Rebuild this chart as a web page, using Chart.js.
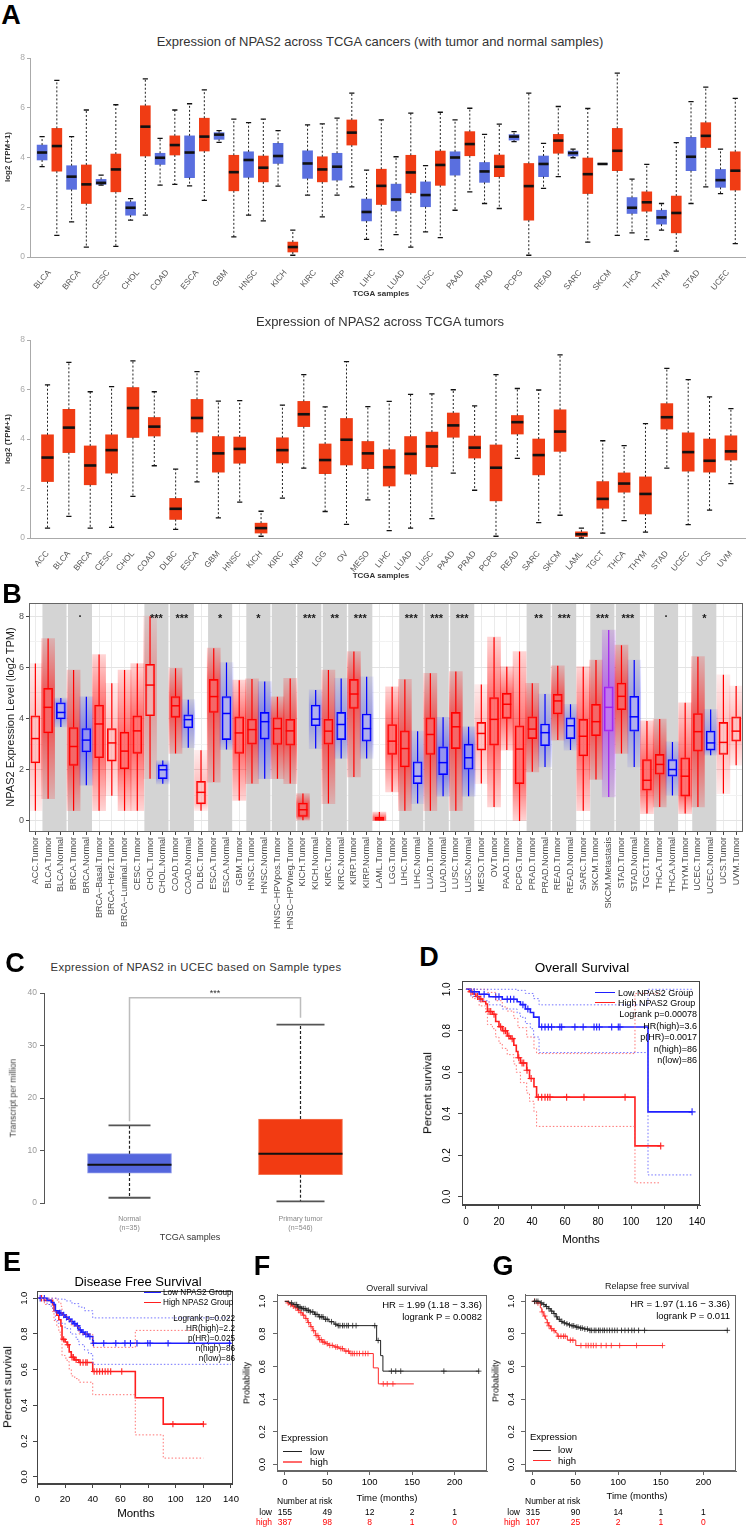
<!DOCTYPE html>
<html>
<head>
<meta charset="utf-8">
<title>NPAS2 expression and survival</title>
<script src="https://cdn.jsdelivr.net/npm/chart.js@4.4.1/dist/chart.umd.min.js"></script>
<style>
  html,body{margin:0;padding:0;background:#fff;}
  #root{position:relative;width:749px;height:1528px;overflow:hidden;background:#fff;font-family:"Liberation Sans",Arial,Helvetica,sans-serif;color:#000;}
  #root canvas{position:absolute;}
  .t{position:absolute;white-space:nowrap;line-height:1;}
  .sw{position:absolute;height:0;}
</style>
</head>
<body>
<div id="root"></div>
<script>
// ======================= DATA =======================
// box stats: [lower whisker, Q1, median, Q3, upper whisker]
const a1Cancers = ['BLCA','BRCA','CESC','CHOL','COAD','ESCA','GBM','HNSC','KICH','KIRC','KIRP','LIHC','LUAD','LUSC','PAAD','PRAD','PCPG','READ','SARC','SKCM','THCA','THYM','STAD','UCEC'];
const a1Normal = [
 [3.63,3.90,4.20,4.50,4.84],[1.41,2.72,3.23,3.67,4.84],[2.89,2.92,2.98,3.12,3.29],[1.48,1.68,1.98,2.22,2.35],
 [2.89,3.72,3.99,4.17,4.77],[2.86,3.19,4.20,4.87,6.16],[4.61,4.73,4.92,5.00,5.08],[1.68,3.20,3.90,4.23,5.40],
 [2.85,3.76,4.06,4.57,5.08],[2.49,3.16,3.76,4.27,5.31],[2.49,3.09,3.63,4.17,5.58],[0.71,1.45,1.81,2.33,3.49],
 [0.90,1.85,2.31,2.93,4.03],[1.01,2.02,2.49,3.02,3.67],[1.88,3.29,4.00,4.23,5.51],[2.15,3.00,3.44,3.80,4.93],
 [4.64,4.70,4.84,4.92,5.04],[2.76,3.23,3.74,4.06,4.57],[3.99,4.06,4.18,4.26,4.34],[3.73,3.73,3.74,3.75,3.75],
 [0.97,1.75,1.98,2.39,3.13],[1.08,1.32,1.59,1.88,2.15],[2.15,3.47,4.03,4.81,6.25],[2.55,2.80,3.09,3.52,4.34]];
const a1Tumor = [
 [0.87,3.45,4.46,5.17,7.10],[0.40,2.15,2.92,3.70,5.91],[0.43,2.62,3.52,4.14,6.12],[1.68,4.06,5.24,6.08,7.16],
 [2.92,4.10,4.50,4.87,5.91],[2.28,4.26,4.84,5.58,6.72],[0.81,2.66,3.41,4.09,5.54],[1.45,3.02,3.59,4.06,5.54],
 [0.07,0.20,0.40,0.60,1.08],[1.61,3.02,3.52,4.03,5.35],[2.82,4.50,5.00,5.51,6.59],[0.30,2.11,2.86,3.53,5.51],
 [0.40,2.58,3.40,4.09,5.78],[0.78,2.88,3.70,4.26,5.82],[2.62,4.07,4.54,5.04,5.98],[1.95,3.23,3.63,4.10,5.34],
 [0.07,1.48,2.85,3.76,6.59],[3.23,4.17,4.68,4.93,6.05],[0.60,2.55,3.33,3.98,5.97],[0.87,3.47,4.27,5.17,7.39],
 [0.70,1.84,2.20,2.62,3.72],[0.24,0.97,1.77,2.45,4.60],[2.82,4.40,4.87,5.40,6.83],[0.54,2.69,3.47,4.23,6.38]];

const a2Cancers = ['ACC','BLCA','BRCA','CESC','CHOL','COAD','DLBC','ESCA','GBM','HNSC','KICH','KIRC','KIRP','LGG','OV','MESO','LIHC','LUAD','LUSC','PAAD','PRAD','PCPG','READ','SARC','SKCM','LAML','TGCT','THCA','THYM','STAD','UCEC','UCS','UVM'];
const a2Tumor = [
 [0.40,2.28,3.25,4.17,6.19],[0.87,3.45,4.46,5.20,7.10],[0.40,2.15,2.93,3.72,5.91],[0.43,2.62,3.55,4.17,6.12],
 [1.68,4.06,5.25,6.08,7.16],[2.92,4.12,4.50,4.87,5.91],[0.35,0.75,1.18,1.60,2.78],[2.27,4.28,4.85,5.60,6.72],
 [0.81,2.66,3.42,4.10,5.53],[1.45,3.02,3.60,4.08,5.55],[0.07,0.20,0.40,0.60,1.08],[1.61,3.03,3.55,4.05,5.37],
 [2.82,4.50,5.00,5.52,6.60],[1.07,2.60,3.15,3.80,5.30],[0.55,2.95,3.97,4.83,7.13],[1.54,2.80,3.42,3.90,5.31],
 [0.30,2.10,2.86,3.57,5.52],[0.40,2.58,3.40,4.10,5.80],[0.78,2.88,3.70,4.28,5.82],[2.62,4.07,4.55,5.05,5.99],
 [1.93,3.23,3.65,4.12,5.34],[0.07,1.50,2.84,3.76,6.60],[3.22,4.20,4.68,4.95,6.04],[0.62,2.55,3.35,4.00,5.98],
 [0.92,3.50,4.30,5.18,7.40],[0.00,0.06,0.15,0.25,0.40],[0.20,1.20,1.58,2.28,3.93],[0.70,1.85,2.20,2.63,3.73],
 [0.24,0.97,1.78,2.47,4.62],[2.82,4.40,4.88,5.43,6.85],[0.54,2.70,3.47,4.25,6.40],[1.13,2.66,3.12,4.00,5.70],
 [2.20,3.15,3.50,4.13,5.23]];

const bGroups = ['ACC.Tumor','BLCA.Tumor','BLCA.Normal','BRCA.Tumor','BRCA.Normal','BRCA\u2212Basal.Tumor','BRCA\u2212Her2.Tumor','BRCA\u2212Luminal.Tumor','CESC.Tumor','CHOL.Tumor','CHOL.Normal','COAD.Tumor','COAD.Normal','DLBC.Tumor','ESCA.Tumor','ESCA.Normal','GBM.Tumor','HNSC.Tumor','HNSC.Normal','HNSC\u2212HPVpos.Tumor','HNSC\u2212HPVneg.Tumor','KICH.Tumor','KICH.Normal','KIRC.Tumor','KIRC.Normal','KIRP.Tumor','KIRP.Normal','LAML.Tumor','LGG.Tumor','LIHC.Tumor','LIHC.Normal','LUAD.Tumor','LUAD.Normal','LUSC.Tumor','LUSC.Normal','MESO.Tumor','OV.Tumor','PAAD.Tumor','PCPG.Tumor','PRAD.Tumor','PRAD.Normal','READ.Tumor','READ.Normal','SARC.Tumor','SKCM.Tumor','SKCM.Metastasis','STAD.Tumor','STAD.Normal','TGCT.Tumor','THCA.Tumor','THCA.Normal','THYM.Tumor','UCEC.Tumor','UCEC.Normal','UCS.Tumor','UVM.Tumor'];
const bStats = [
 [0.40,2.27,3.22,4.11,6.15],[0.87,3.44,4.44,5.18,7.13],[3.67,3.99,4.24,4.62,4.80],[0.40,2.17,2.91,3.65,5.90],
 [1.40,2.70,3.16,3.61,4.85],[0.40,2.47,3.79,4.53,6.50],[0.99,2.34,3.05,3.61,5.38],[0.40,2.04,2.73,3.47,5.90],
 [0.40,2.64,3.52,4.11,6.15],[1.65,4.11,5.31,6.12,8.00],[1.45,1.65,2.00,2.19,2.36],[2.64,4.05,4.50,4.86,5.97],
 [2.86,3.64,3.96,4.15,4.74],[0.40,0.67,1.12,1.55,2.76],[1.52,4.24,4.86,5.53,6.75],[2.79,3.18,4.20,4.86,6.19],
 [0.80,2.64,3.44,4.07,5.50],[1.46,3.00,3.57,3.98,5.55],[1.65,3.20,3.88,4.24,5.45],[1.65,2.99,3.61,4.03,4.85],
 [1.46,2.96,3.52,3.97,5.57],[0.03,0.18,0.44,0.70,1.07],[2.83,3.72,3.98,4.53,5.12],[0.68,3.00,3.51,3.97,5.90],
 [2.44,3.18,3.77,4.24,5.57],[1.72,4.40,4.96,5.53,6.62],[2.44,3.12,3.61,4.18,5.63],[0.00,0.02,0.08,0.15,0.35],
 [1.14,2.60,3.12,3.77,5.24],[0.40,2.11,2.83,3.52,5.53],[0.68,1.46,1.75,2.31,3.51],[0.40,2.60,3.38,4.03,5.77],
 [0.97,1.81,2.28,2.90,4.05],[0.40,2.83,3.68,4.24,5.84],[0.97,2.02,2.47,3.00,3.68],[1.46,2.77,3.42,3.85,5.33],
 [0.55,2.96,3.97,4.82,7.18],[2.77,4.01,4.56,4.99,6.03],[0.00,1.46,2.81,3.72,6.62],[1.92,3.22,3.59,4.07,5.38],
 [2.11,2.94,3.45,3.79,4.96],[3.16,4.18,4.69,4.95,6.06],[2.77,3.22,3.72,4.03,4.56],[0.40,2.54,3.31,3.97,6.03],
 [1.62,3.33,3.88,4.56,6.29],[0.94,3.51,4.44,5.24,7.46],[2.64,4.35,4.87,5.39,6.87],[2.11,3.51,4.07,4.87,6.29],
 [0.29,1.20,1.59,2.40,3.91],[0.55,1.83,2.21,2.60,3.98],[1.00,1.75,2.01,2.40,3.09],[0.29,0.97,1.75,2.47,4.62],
 [0.55,2.73,3.49,4.20,6.42],[2.57,2.77,3.05,3.51,4.36],[1.07,2.60,3.07,3.85,5.71],[2.18,3.12,3.51,4.07,5.27]];
// tumor/normal comparison pairs (index of the first group of each pair) and significance marks
const bPairStarts = [1,3,9,11,14,17,19,21,23,25,29,31,33,39,41,44,46,49,52];
const bSigIndex = [3,9,11,14,17,21,23,25,29,31,33,39,41,44,46,49,52];
const bSigText  = ['.','***','***','*','*','***','**','***','***','***','***','**','***','***','***','.','*'];
const bTicks = [0,1,2,3,4,5,6,7,8];

const cLabels = [['Normal','(n=35)'],['Primary tumor','(n=546)']];
const cStats = [[1.0,5.7,7.3,9.4,14.8],[0.3,5.4,9.4,16.0,34.0]];
const cBracket = {top:39.1, legs:[15.6,35.3], text:'***'};

// Kaplan-Meier: event times (months) and survival after each step; censor times; curve end
const dLowT = [0,3,8,14,22,31,33,36,39,41,44.3,110.3];
const dLowS = [1,0.988,0.976,0.964,0.952,0.94,0.926,0.905,0.888,0.866,0.818,0.409];
const dLowCens = [5,11,18,20,25,27,29,34.5,37.5,45.9,47.9,49.9,51.9,56.9,58,66,71,77.6,79.2,80.8,88.3,92.3,93.3,137];
const dHighT = [0,2,4,6,8,10,12,13,16,18,20,22,25,27,29,30.5,31.5,33,36.8,38.5,41.2,42.8,102.4];
const dHighS = [1,0.988,0.977,0.965,0.953,0.941,0.929,0.893,0.88,0.845,0.82,0.8,0.775,0.762,0.73,0.7,0.67,0.645,0.61,0.57,0.53,0.48,0.245];
const dHighCens = [3,7,9,14,15,17,21,23,24,26,28,32,34,35,37,39.5,43.8,45.9,47.9,49.5,50.9,61,71.5,96.4,118];
const dLowUpT = [0,31,36,41,44.3,110.3], dLowUpS = [1,0.995,0.98,0.955,0.925,1.0];
const dLowLoT = [0,3,8,14,22,31,33,36,39,41,44.3,110.3], dLowLoS = [1,0.965,0.945,0.925,0.905,0.885,0.865,0.835,0.81,0.77,0.695,0.105];
const dHighUpT = [0,10,13,18,22,25,29,31.5,36.8,41.2,42.8,102.4], dHighUpS = [1,1,0.985,0.945,0.915,0.895,0.86,0.815,0.77,0.715,0.69,0.98];
const dHighLoT = [0,4,8,12,13,16,18,20,22,25,29,30.5,33,36.8,38.5,41.2,42.8,102.4], dHighLoS = [1,0.955,0.92,0.885,0.83,0.81,0.77,0.74,0.715,0.685,0.64,0.6,0.55,0.5,0.46,0.41,0.339,0.067];
const dEnd = {low:137, high:118};

const eLowT = [0,7,10,12,13,15,18,20,22,24,26,28,30,32,34,37,40];
const eLowS = [1,0.988,0.976,0.964,0.93,0.918,0.906,0.894,0.882,0.87,0.858,0.846,0.822,0.81,0.798,0.786,0.748];
const eLowCens = [2,5,16,17,19,21,23,25,27,29,31,33,35,36,38,40.6,48,56.7,63.3,67.3,72,79.8,81.5,94.5,139];
const eHighT = [0,5,11,12,14,15.5,17,17.8,20,21.5,23,24.5,27,30,40,70.8,91];
const eHighS = [1,0.988,0.964,0.93,0.905,0.88,0.845,0.77,0.755,0.74,0.7,0.67,0.655,0.64,0.59,0.4425,0.295];
const eHighCens = [3,19,22,25,26,28,31,33,35,36,41,43,45,47,49,51,53,61,98,120];
const eLowUpT = [0,12,15,20,25,30,34,40], eLowUpS = [1,1,0.995,0.985,0.97,0.95,0.93,0.89];
const eLowLoT = [0,7,10,12,13,15,20,24,28,30,34,37,40], eLowLoS = [1,0.965,0.945,0.925,0.875,0.86,0.83,0.8,0.77,0.74,0.71,0.69,0.63];
const eHighUpT = [0,14,15.5,17,17.8,21.5,24.5,30,40,70.8], eHighUpS = [1,0.99,0.975,0.955,0.905,0.88,0.845,0.8,0.725,0.82];
const eHighLoT = [0,5,11,12,14,15.5,17,17.8,20,21.5,23,24.5,27,30,40,70.8,91], eHighLoS = [1,0.965,0.925,0.875,0.84,0.81,0.77,0.68,0.665,0.645,0.6,0.565,0.55,0.53,0.46,0.235,0.105];
const eEnd = {low:140, high:120};

const fLowT = [0,5,10,15,20,25,30,35,40,46,52,58,62,108.2,112.9,115.6];
const fLowS = [1,0.99,0.98,0.965,0.955,0.945,0.935,0.92,0.905,0.89,0.875,0.86,0.851,0.76,0.667,0.572];
const fLowCens = [8,12,14,16,18,20,22,24,26,28,30,33,36,38,41,43,45,48,50,55,60,63,65,68,70,73,75,80,84,106,110,125.6,130.7,136.6,187.4,228.4];
const fHighT = [0,3,6,9,12,15,18,21,24,27,30,33,36,40,44,48,52,58,64,70,76,104.3,110.2];
const fHighS = [1,0.99,0.98,0.97,0.96,0.945,0.93,0.915,0.895,0.87,0.845,0.82,0.79,0.765,0.75,0.74,0.73,0.72,0.71,0.695,0.68,0.592,0.494];
const fHighCens = [4,7,10,13,16,19,22,25,28,31,34,37,39,41,43,45,47,50,53,56,60,62,66,68,72,75,78,80,82,85,88,92,95,98,116,120.7,127.4];
const fEnd = {low:229, high:152};
const fRiskLow = [155,49,12,2,1], fRiskHigh = [387,98,8,1,0];

const gLowT = [0,8.8,12,15,18,21,24,27,29,32,35,38.5,42,45,50,55,60,66.1];
const gLowS = [1,0.99,0.98,0.968,0.955,0.94,0.925,0.905,0.89,0.877,0.868,0.862,0.855,0.85,0.842,0.836,0.83,0.822];
const gLowCens = [2,4,6,10,13,16,19,22,25,28,31,34,37,40,43,46,48,51,53,56,58,61,64,67,69,72,74,77,79,82,84,87,90,93,96,99,104,108,112,116,119,124,131,228];
const gHighT = [0,4.8,8.8,10.5,12.8,15,16.8,18.5,20.7,24,26.7,28.6,40.5,50.4];
const gHighS = [1,0.99,0.96,0.935,0.91,0.89,0.869,0.85,0.832,0.82,0.807,0.786,0.762,0.729];
const gHighCens = [2,6,11,14,17,19,22,25,30,33,36,38,44,47,56.4,62.3,65,68.2,71,74.2,80.1,86,92,101.8,121.6,152];
const gEnd = {low:229, high:152};
const gRiskLow = [315,90,14,1,1], gRiskHigh = [107,25,2,1,0];
const riskTimes = [0,50,100,150,200];

// ======================= HELPERS =======================
Chart.defaults.font.family = '"Liberation Sans", Arial, Helvetica, sans-serif';
Chart.defaults.color = '#333';
const FONT = '"Liberation Sans", Arial, Helvetica, sans-serif';
const root = document.getElementById('root');

function mkCanvas(left, top, w, h) {
  const c = document.createElement('canvas');
  c.width = w; c.height = h;
  c.style.left = left + 'px'; c.style.top = top + 'px';
  c.style.width = w + 'px'; c.style.height = h + 'px';
  root.appendChild(c);
  return c;
}
function txt(s, x, y, o) {
  o = o || {};
  const d = document.createElement('div');
  d.className = 't'; d.textContent = s;
  d.style.fontSize = (o.size || 10) + 'px';
  d.style.fontWeight = o.weight || 'normal';
  d.style.color = o.color || '#000';
  if (o.ls) d.style.letterSpacing = o.ls + 'px';
  const ax = o.align === 'left' ? '0%' : (o.align === 'right' ? '-100%' : '-50%');
  d.style.left = x + 'px'; d.style.top = y + 'px';
  d.style.transform = 'translate(' + ax + ',-50%)' + (o.rot ? ' rotate(' + o.rot + 'deg)' : '');
  root.appendChild(d);
  return d;
}
function swatch(x1, x2, y, color, w) {
  const d = document.createElement('div');
  d.className = 'sw';
  d.style.left = x1 + 'px'; d.style.top = (y - w / 2) + 'px';
  d.style.width = (x2 - x1) + 'px';
  d.style.borderTop = w + 'px solid ' + color;
  root.appendChild(d);
}
const ticksAt = vals => sc => { sc.ticks = vals.map(v => ({value: v})); };

function whiskPlugin(sets) {
  return {
    id: 'whisk',
    afterDatasetsDraw(chart) {
      const ctx = chart.ctx, ys = chart.scales.y;
      sets.forEach(s => {
        const meta = chart.getDatasetMeta(s.ds);
        meta.data.forEach((el, j) => {
          const st = s.stats[j];
          const x = el.x, w = el.width;
          const col = typeof s.color === 'function' ? s.color(j) : s.color;
          const p = st.map(v => ys.getPixelForValue(v));
          ctx.save();
          ctx.lineWidth = s.lw; ctx.strokeStyle = col; ctx.setLineDash(s.dash || []);
          ctx.beginPath();
          ctx.moveTo(x, p[3]); ctx.lineTo(x, p[4]);
          ctx.moveTo(x, p[1]); ctx.lineTo(x, p[0]);
          ctx.stroke();
          ctx.setLineDash([]);
          if (s.cap) {
            const hw = typeof s.cap === 'function' ? s.cap(j) : s.cap;
            ctx.strokeStyle = s.capColor || col; ctx.lineWidth = s.capW || s.lw;
            ctx.beginPath();
            ctx.moveTo(x - hw, p[4]); ctx.lineTo(x + hw, p[4]);
            ctx.moveTo(x - hw, p[0]); ctx.lineTo(x + hw, p[0]);
            ctx.stroke();
          }
          ctx.strokeStyle = s.medColor ? (typeof s.medColor === 'function' ? s.medColor(j) : s.medColor) : col;
          ctx.lineWidth = s.medW;
          const ins = s.medInset || 0;
          ctx.beginPath(); ctx.moveTo(x - w / 2 + ins, p[2]); ctx.lineTo(x + w / 2 - ins, p[2]); ctx.stroke();
          ctx.restore();
        });
      });
    }
  };
}
function framePlugin(color, lw) {
  return { id: 'frame', afterDraw(chart) {
    const a = chart.chartArea, ctx = chart.ctx;
    ctx.save(); ctx.strokeStyle = color; ctx.lineWidth = lw;
    ctx.strokeRect(Math.round(a.left) + 0.5, Math.round(a.top) + 0.5, Math.round(a.right - a.left) - 1, Math.round(a.bottom - a.top) - 1);
    ctx.restore();
  }};
}
function rotYPlugin(size, off) {
  return { id: 'rotY', afterDraw(chart) {
    const ys = chart.scales.y, ctx = chart.ctx, a = chart.chartArea;
    ctx.save(); ctx.font = size + 'px ' + FONT; ctx.fillStyle = '#000';
    ctx.textAlign = 'center'; ctx.textBaseline = 'middle';
    ys.ticks.forEach(t => {
      const y = ys.getPixelForValue(t.value);
      ctx.save(); ctx.translate(a.left - off, y); ctx.rotate(-Math.PI / 2);
      ctx.fillText(t.value.toFixed(1), 0, 0); ctx.restore();
    });
    ctx.restore();
  }};
}
function riskPlugin(times, low, high) {
  return { id: 'risk', afterDraw(chart) {
    const ctx = chart.ctx, xs = chart.scales.x, a = chart.chartArea;
    ctx.save(); ctx.font = '8.5px ' + FONT; ctx.textBaseline = 'middle';
    ctx.fillStyle = '#000'; ctx.textAlign = 'left';
    ctx.fillText('Number at risk', a.left, a.bottom + 31);
    ctx.textAlign = 'right'; ctx.fillText('low', a.left - 5, a.bottom + 42);
    ctx.fillStyle = '#ff0000'; ctx.fillText('high', a.left - 5, a.bottom + 52);
    ctx.textAlign = 'center';
    times.forEach((t, i) => {
      const x = xs.getPixelForValue(t);
      ctx.fillStyle = '#000'; ctx.fillText(String(low[i]), x, a.bottom + 42);
      ctx.fillStyle = '#ff0000'; ctx.fillText(String(high[i]), x, a.bottom + 52);
    });
    ctx.restore();
  }};
}
const baseOpts = (pad) => ({
  responsive: false, animation: false, events: [],
  layout: {padding: pad},
  plugins: {legend: {display: false}, tooltip: {enabled: false}}
});

// ======================= PANEL A =======================
const RED_A = '#f03c14', BLUE_A = '#5a6fdf';
function buildA(top, nPos, sets, tickVals, tickLabels, boxW, xh) {
  const cv = mkCanvas(0, top, 749, 250);
  const datasets = sets.map(s => ({
    type: 'bar', grouped: false, borderWidth: 0, barThickness: boxW,
    backgroundColor: s.color,
    data: s.stats.map((st, k) => ({x: s.pos[k], y: [st[1], st[3]]}))
  }));
  const o = baseOpts({top: 8, right: 4, left: 0, bottom: 0});
  o.scales = {
    x: {type: 'linear', min: -0.82, max: nPos - 1 + 0.66, offset: false,
        afterBuildTicks: ticksAt(tickVals), afterFit: sc => { sc.height = xh; },
        ticks: {autoSkip: false, minRotation: 50, maxRotation: 50, font: {size: 8.3}, color: '#555', padding: 3,
                callback: (v, i) => tickLabels[i]},
        grid: {display: false}, border: {display: true, color: '#aaa'}},
    y: {min: 0, max: 8, afterBuildTicks: ticksAt([0, 2, 4, 6, 8]), afterFit: sc => { sc.width = 30; },
        ticks: {font: {size: 8.5}, color: '#aaa', padding: 2},
        grid: {display: true, drawOnChartArea: false, drawTicks: true, tickLength: 3, color: '#aaa'},
        border: {display: true, color: '#aaa'}}
  };
  new Chart(cv, {type: 'bar', data: {datasets}, options: o,
    plugins: [whiskPlugin(sets.map((s, i) => ({ds: i, stats: s.stats, color: '#222', lw: 1, dash: [2, 2],
      cap: 2.6, capColor: '#111', capW: 1.3, medColor: '#111', medW: 2.6})))]});
}
// A top: interleaved normal (blue) / tumor (red)
buildA(50, a1Cancers.length * 2, [
  {stats: a1Normal, pos: a1Cancers.map((c, k) => 2 * k), color: BLUE_A},
  {stats: a1Tumor, pos: a1Cancers.map((c, k) => 2 * k + 1), color: RED_A}
], a1Cancers.map((c, k) => 2 * k + 0.5), a1Cancers, 10, 43);
// A bottom: tumors only
buildA(332, a2Cancers.length, [
  {stats: a2Tumor, pos: a2Cancers.map((c, k) => k), color: RED_A}
], a2Cancers.map((c, k) => k), a2Cancers, 12, 44);

txt('A', 11, 15, {size: 27, weight: 'bold'});
txt('Expression of NPAS2 across TCGA cancers (with tumor and normal samples)', 380, 41, {size: 13, color: '#333'});
txt('log2 (TPM+1)', 8, 157, {size: 8, weight: 'bold', rot: -90, color: '#333'});
txt('TCGA samples', 381, 294, {size: 8, weight: 'bold', color: '#333'});
txt('Expression of NPAS2 across TCGA tumors', 380, 321, {size: 13, color: '#333'});
txt('log2 (TPM+1)', 8, 439, {size: 8, weight: 'bold', rot: -90, color: '#333'});
txt('TCGA samples', 381, 576, {size: 8, weight: 'bold', color: '#333'});

// ======================= PANEL B =======================
(function () {
  const cv = mkCanvas(0, 596, 749, 340);
  const type = bGroups.map(g => g.endsWith('.Normal') ? 'N' : (g.endsWith('.Metastasis') ? 'M' : 'T'));
  const rgb = {T: '255,0,0', N: '0,0,255', M: '160,32,240'};
  const sparse = ['ACC.Tumor','BLCA.Normal','CHOL.Tumor','CHOL.Normal','DLBC.Tumor','ESCA.Normal','KICH.Normal','KIRC.Normal','KIRP.Normal','LIHC.Normal','PRAD.Normal','READ.Normal','STAD.Normal','THCA.Normal','UCEC.Normal','UCS.Tumor','UVM.Tumor','MESO.Tumor','COAD.Normal','BRCA\u2212Her2.Tumor'];
  const alpha = bGroups.map((g, i) => sparse.includes(g) ? 0.24 : (type[i] === 'N' ? 0.36 : 0.55));
  const lineCol = bGroups.map((g, i) => 'rgb(' + rgb[type[i]] + ')');
  // jittered-point cloud look: dense around the box, fading toward the whisker ends
  const cloudFill = (c) => {
    const i = c.dataIndex, chart = c.chart, ys = chart.scales.y;
    const base = 'rgba(' + rgb[type[i]] + ',';
    if (!chart.chartArea || !ys) return base + alpha[i] + ')';
    const st = bStats[i];
    const y0 = ys.getPixelForValue(st[4]), y1 = ys.getPixelForValue(st[0]);
    if (y1 - y0 < 2) return base + alpha[i] + ')';
    const f = v => Math.min(1, Math.max(0, (ys.getPixelForValue(v) - y0) / (y1 - y0)));
    const g = chart.ctx.createLinearGradient(0, y0, 0, y1);
    g.addColorStop(0, base + (alpha[i] * 0.3) + ')');
    g.addColorStop(f(st[3]), base + alpha[i] + ')');
    g.addColorStop(f(st[1]), base + alpha[i] + ')');
    g.addColorStop(1, base + (alpha[i] * 0.3) + ')');
    return g;
  };
  const bandsPlugin = { id: 'bands', beforeDatasetsDraw(chart) {
    const xs = chart.scales.x, a = chart.chartArea, ctx = chart.ctx;
    const step = xs.getPixelForValue(1) - xs.getPixelForValue(0);
    ctx.save(); ctx.fillStyle = '#d4d4d4';
    bPairStarts.forEach(i => {
      const x1 = xs.getPixelForValue(i) - step / 2 + 0.7;
      const x2 = xs.getPixelForValue(i + 1) + step / 2 - 0.7;
      ctx.fillRect(x1, a.top, x2 - x1, a.bottom - a.top);
    });
    ctx.restore();
  }};
  const starsPlugin = { id: 'stars', afterDatasetsDraw(chart) {
    const xs = chart.scales.x, ys = chart.scales.y, ctx = chart.ctx;
    ctx.save(); ctx.fillStyle = '#1a1a1a'; ctx.textAlign = 'center'; ctx.textBaseline = 'middle';
    ctx.font = 'bold 11px ' + FONT;
    bSigIndex.forEach((i, k) => {
      const x = (xs.getPixelForValue(i) + xs.getPixelForValue(i + 1)) / 2;
      ctx.fillText(bSigText[k], x, ys.getPixelForValue(8) + (bSigText[k] === '.' ? -2 : 3));
    });
    ctx.restore();
  }};
  const o = baseOpts({top: 7, right: 6, left: 0, bottom: 0});
  o.scales = {
    x: {offset: true, afterFit: sc => { sc.height = 104; },
        ticks: {autoSkip: false, minRotation: 90, maxRotation: 90, font: {size: 9}, color: '#4d4d4d', padding: 2},
        grid: {offset: false, color: '#ebebeb', tickColor: '#444', tickLength: 3}, border: {display: false}},
    y: {min: -0.43, max: 8.5, afterBuildTicks: ticksAt(bTicks), afterFit: sc => { sc.width = 29; },
        ticks: {font: {size: 9}, color: '#4d4d4d', padding: 2, callback: v => (v % 2 === 0 ? String(v) : '')},
        grid: {color: c => (c.tick && c.tick.value % 2 === 0 ? '#e4e4e4' : '#f2f2f2'),
               tickColor: c => (c.tick && c.tick.value % 2 === 0 ? '#444' : 'rgba(0,0,0,0)'), tickLength: 3},
        border: {display: false}}
  };
  new Chart(cv, {type: 'bar', data: {labels: bGroups, datasets: [
      {data: bStats.map(s => [s[0], s[4]]), backgroundColor: cloudFill, borderWidth: 0, barThickness: 13, grouped: false},
      {data: bStats.map(s => [s[1], s[3]]), backgroundColor: 'rgba(255,255,255,0.45)', borderColor: lineCol,
       borderWidth: 1.3, borderSkipped: false, barThickness: 9, grouped: false}
    ]}, options: o,
    plugins: [bandsPlugin, whiskPlugin([{ds: 1, stats: bStats, color: j => lineCol[j], lw: 1.2, medW: 1.5}]), starsPlugin, framePlugin('#666', 1)]});
  txt('B', 12, 594, {size: 27, weight: 'bold'});
  txt('NPAS2 Expression Level (log2 TPM)', 10, 717, {size: 11, rot: -90, color: '#1a1a1a'});
})();

// ======================= PANEL C =======================
(function () {
  const cv = mkCanvas(0, 985, 390, 260);
  const bracketPlugin = { id: 'bracket', afterDatasetsDraw(chart) {
    const xs = chart.scales.x, ys = chart.scales.y, ctx = chart.ctx;
    const x0 = xs.getPixelForValue(0), x1 = xs.getPixelForValue(1), yt = ys.getPixelForValue(cBracket.top);
    ctx.save(); ctx.strokeStyle = '#bdbdbd'; ctx.lineWidth = 1.5;
    ctx.beginPath();
    ctx.moveTo(x0, ys.getPixelForValue(cBracket.legs[0])); ctx.lineTo(x0, yt); ctx.lineTo(x1, yt);
    ctx.lineTo(x1, ys.getPixelForValue(cBracket.legs[1]));
    ctx.stroke();
    ctx.fillStyle = '#333'; ctx.font = '9px ' + FONT; ctx.textAlign = 'center'; ctx.textBaseline = 'middle';
    ctx.fillText(cBracket.text, (x0 + x1) / 2, yt - 4);
    ctx.restore();
  }};
  const o = baseOpts({top: 8, right: 4, left: 0, bottom: 0});
  o.clip = false;
  o.scales = {
    x: {afterFit: sc => { sc.height = 42; }, grid: {display: false}, border: {display: false},
        ticks: {font: {size: 7}, color: '#888', padding: 4}},
    y: {min: 0, max: 40, afterBuildTicks: ticksAt([0, 10, 20, 30, 40]), afterFit: sc => { sc.width = 44; },
        ticks: {font: {size: 8.5}, color: '#999', padding: 3},
        grid: {drawOnChartArea: false, tickLength: 4, color: '#555'}, border: {display: true, color: '#555'}}
  };
  new Chart(cv, {type: 'bar', data: {labels: cLabels, datasets: [
      {data: cStats.map(s => [s[1], s[3]]), backgroundColor: ['#5466dd', '#f23b12'], borderColor: ['#8d98ea', '#f57350'],
       borderWidth: 1, borderSkipped: false, barThickness: 84}
    ]}, options: o,
    plugins: [whiskPlugin([{ds: 0, stats: cStats, color: '#222', lw: 1.2, dash: [3, 2], cap: j => (j === 0 ? 21 : 24),
      capColor: '#555', capW: 1.8, medColor: '#111', medW: 2}]), bracketPlugin]});
  txt('C', 15, 963, {size: 27, weight: 'bold'});
  txt('Expression of NPAS2 in UCEC based on Sample types', 196, 968, {size: 11.3, color: '#333', ls: 0.3});
  txt('Transcript per million', 13, 1098, {size: 8.5, rot: -90, color: '#444'});
  txt('TCGA samples', 190, 1237, {size: 9, color: '#333'});
})();

// ======================= KM builder =======================
function stepData(T, S, end) {
  const d = T.map((t, i) => ({x: t, y: S[i]}));
  d.push({x: end, y: S[S.length - 1]});
  return d;
}
function survAt(T, S, t) { let v = S[0]; for (let i = 0; i < T.length; i++) if (T[i] <= t) v = S[i]; return v; }
function buildKM(cv, o) {
  const ds = [];
  (o.ci || []).forEach(c => ds.push({type: 'line', data: stepData(c.T, c.S, c.end), borderColor: c.color,
    borderWidth: 1, borderDash: [1.5, 2], stepped: true, pointRadius: 0, fill: false}));
  o.curves.forEach(c => {
    ds.push({type: 'line', data: stepData(c.T, c.S, c.end), borderColor: c.color, borderWidth: c.lw,
      stepped: true, pointRadius: 0, fill: false});
    ds.push({type: 'scatter', data: c.cens.map(t => ({x: t, y: survAt(c.T, c.S, t)})), pointStyle: 'cross',
      pointRadius: c.cr, pointBorderColor: c.color, pointBackgroundColor: c.color, pointBorderWidth: c.cw, showLine: false});
  });
  const opts = baseOpts(o.pad);
  opts.scales = {
    x: {type: 'linear', min: o.xmin, max: o.xmax, afterBuildTicks: ticksAt(o.xticks), afterFit: sc => { sc.height = o.xh; },
        ticks: {font: {size: o.tf}, color: '#000', padding: o.tp, maxRotation: 0, autoSkip: false},
        grid: {drawOnChartArea: false, tickLength: 4, color: o.ac}, border: {display: true, color: o.ac}},
    y: {min: -0.04, max: 1.04, afterBuildTicks: ticksAt([0, 0.2, 0.4, 0.6, 0.8, 1]), afterFit: sc => { sc.width = o.yw; },
        ticks: {display: false}, grid: {drawOnChartArea: false, tickLength: 4, color: o.ac}, border: {display: true, color: o.ac}}
  };
  new Chart(cv, {type: 'line', data: {datasets: ds}, options: opts,
    plugins: [framePlugin(o.ac, 1), rotYPlugin(o.tf, o.yoff)].concat(o.extra || [])});
}
const KBLUE = '#1f1fff', KRED = '#ff1f1f', CIBLUE = 'rgba(90,90,255,0.85)', CIRED = 'rgba(255,90,90,0.85)';

// ======================= PANEL D =======================
buildKM(mkCanvas(417, 975, 332, 275), {
  pad: {top: 6, right: 49, left: 0, bottom: 0}, yw: 45, xh: 45, xmin: -2.4, xmax: 141.8,
  xticks: [0, 20, 40, 60, 80, 100, 120, 140], tf: 10, tp: 7, ac: '#444', yoff: 15,
  ci: [
    {T: dLowUpT, S: dLowUpS, end: dEnd.low, color: CIBLUE}, {T: dLowLoT, S: dLowLoS, end: dEnd.low, color: CIBLUE},
    {T: dHighUpT, S: dHighUpS, end: dEnd.high, color: CIRED}, {T: dHighLoT, S: dHighLoS, end: dEnd.high, color: CIRED}],
  curves: [
    {T: dLowT, S: dLowS, end: dEnd.low, cens: dLowCens, color: KBLUE, lw: 1.6, cr: 3.5, cw: 1.1},
    {T: dHighT, S: dHighS, end: dEnd.high, cens: dHighCens, color: KRED, lw: 1.6, cr: 3.5, cw: 1.1}]
});
txt('D', 429, 957, {size: 27, weight: 'bold'});
txt('Overall Survival', 582, 968, {size: 13.5});
txt('Percent survival', 428, 1093, {size: 11.5, rot: -90});
txt('Months', 581, 1240, {size: 11.5});
swatch(595, 615, 993, KBLUE, 1.6); txt('Low NPAS2 Group', 618, 993, {size: 9, align: 'left'});
swatch(595, 615, 1003, KRED, 1.6); txt('High NPAS2 Group', 618, 1003, {size: 9, align: 'left'});
[['Logrank p=0.00078', 1014], ['HR(high)=3.6', 1025.5], ['p(HR)=0.0017', 1037], ['n(high)=86', 1048.5], ['n(low)=86', 1060]]
  .forEach(([s, y]) => txt(s, 697, y, {size: 9, align: 'right'}));

// ======================= PANEL E =======================
buildKM(mkCanvas(0, 1286, 245, 242), {
  pad: {top: 4, right: 9, left: 0, bottom: 0}, yw: 37, xh: 44, xmin: -0.3, xmax: 141.3,
  xticks: [0, 20, 40, 60, 80, 100, 120, 140], tf: 9.5, tp: 6, ac: '#444', yoff: 13,
  ci: [
    {T: eLowUpT, S: eLowUpS, end: eEnd.low, color: CIBLUE}, {T: eLowLoT, S: eLowLoS, end: eEnd.low, color: CIBLUE},
    {T: eHighUpT, S: eHighUpS, end: eEnd.high, color: CIRED}, {T: eHighLoT, S: eHighLoS, end: eEnd.high, color: CIRED}],
  curves: [
    {T: eLowT, S: eLowS, end: eEnd.low, cens: eLowCens, color: KBLUE, lw: 1.6, cr: 3.2, cw: 1.1},
    {T: eHighT, S: eHighS, end: eEnd.high, cens: eHighCens, color: KRED, lw: 1.6, cr: 3.2, cw: 1.1}]
});
txt('E', 12, 1262, {size: 27, weight: 'bold'});
txt('Disease Free Survival', 138, 1281, {size: 13});
txt('Percent survival', 8, 1387, {size: 11.5, rot: -90});
txt('Months', 136, 1514, {size: 11.5});
swatch(144, 161, 1293, KBLUE, 1.6); txt('Low NPAS2 Group', 163, 1293, {size: 8.2, align: 'left'});
swatch(144, 161, 1302.5, KRED, 1.6); txt('High NPAS2 Group', 163, 1302.5, {size: 8.2, align: 'left'});
[['Logrank p=0.022', 1318.7], ['HR(high)=2.2', 1329], ['p(HR)=0.025', 1339], ['n(high)=86', 1349.3], ['n(low)=86', 1359.3]]
  .forEach(([s, y]) => txt(s, 235, y, {size: 8.2, align: 'right'}));

// ======================= PANEL F =======================
buildKM(mkCanvas(240, 1290, 254, 238), {
  pad: {top: 4, right: 7, left: 0, bottom: 0}, yw: 37, xh: 57, xmin: -9.16, xmax: 238.2,
  xticks: [0, 50, 100, 150, 200], tf: 9.5, tp: 2, ac: '#666', yoff: 15,
  curves: [
    {T: fLowT, S: fLowS, end: fEnd.low, cens: fLowCens, color: '#222', lw: 1, cr: 2.8, cw: 0.8},
    {T: fHighT, S: fHighS, end: fEnd.high, cens: fHighCens, color: '#ff2a2a', lw: 1, cr: 2.8, cw: 0.8}],
  extra: [riskPlugin(riskTimes, fRiskLow, fRiskHigh)]
});
txt('F', 262, 1266, {size: 27, weight: 'bold'});
txt('Overall survival', 397, 1288, {size: 9, color: '#222'});
txt('Probability', 247, 1383, {size: 9, rot: -90});
txt('Time (months)', 387, 1498, {size: 9.5});
txt('HR = 1.99 (1.18 \u2212 3.36)', 482, 1305, {size: 9.5, align: 'right'});
txt('logrank P = 0.0082', 482, 1316.5, {size: 9.5, align: 'right'});
txt('Expression', 281, 1438, {size: 9.5, align: 'left'});
swatch(283, 302, 1451.5, '#222', 1); txt('low', 310, 1451.5, {size: 9.5, align: 'left'});
swatch(283, 302, 1462, '#ff6a6a', 2); txt('high', 310, 1462, {size: 9.5, align: 'left'});

// ======================= PANEL G =======================
buildKM(mkCanvas(488, 1290, 261, 238), {
  pad: {top: 4, right: 13, left: 0, bottom: 0}, yw: 37, xh: 57, xmin: -9.16, xmax: 238.2,
  xticks: [0, 50, 100, 150, 200], tf: 9.5, tp: 2, ac: '#666', yoff: 14,
  curves: [
    {T: gLowT, S: gLowS, end: gEnd.low, cens: gLowCens, color: '#222', lw: 1, cr: 2.8, cw: 0.8},
    {T: gHighT, S: gHighS, end: gEnd.high, cens: gHighCens, color: '#ff2a2a', lw: 1, cr: 2.8, cw: 0.8}],
  extra: [riskPlugin(riskTimes, gRiskLow, gRiskHigh)]
});
txt('G', 503, 1266, {size: 27, weight: 'bold'});
txt('Relapse free survival', 647, 1286, {size: 9, color: '#222'});
txt('Probability', 496, 1381, {size: 9, rot: -90});
txt('Time (months)', 637, 1496, {size: 9.5});
txt('HR = 1.97 (1.16 \u2212 3.36)', 730, 1304, {size: 9.5, align: 'right'});
txt('logrank P = 0.011', 730, 1316, {size: 9.5, align: 'right'});
txt('Expression', 530, 1437, {size: 9.5, align: 'left'});
swatch(533, 551, 1450, '#222', 1); txt('low', 558, 1450, {size: 9.5, align: 'left'});
swatch(533, 551, 1460.5, '#ff2a2a', 1); txt('high', 558, 1460.5, {size: 9.5, align: 'left'});
</script>
</body>
</html>
